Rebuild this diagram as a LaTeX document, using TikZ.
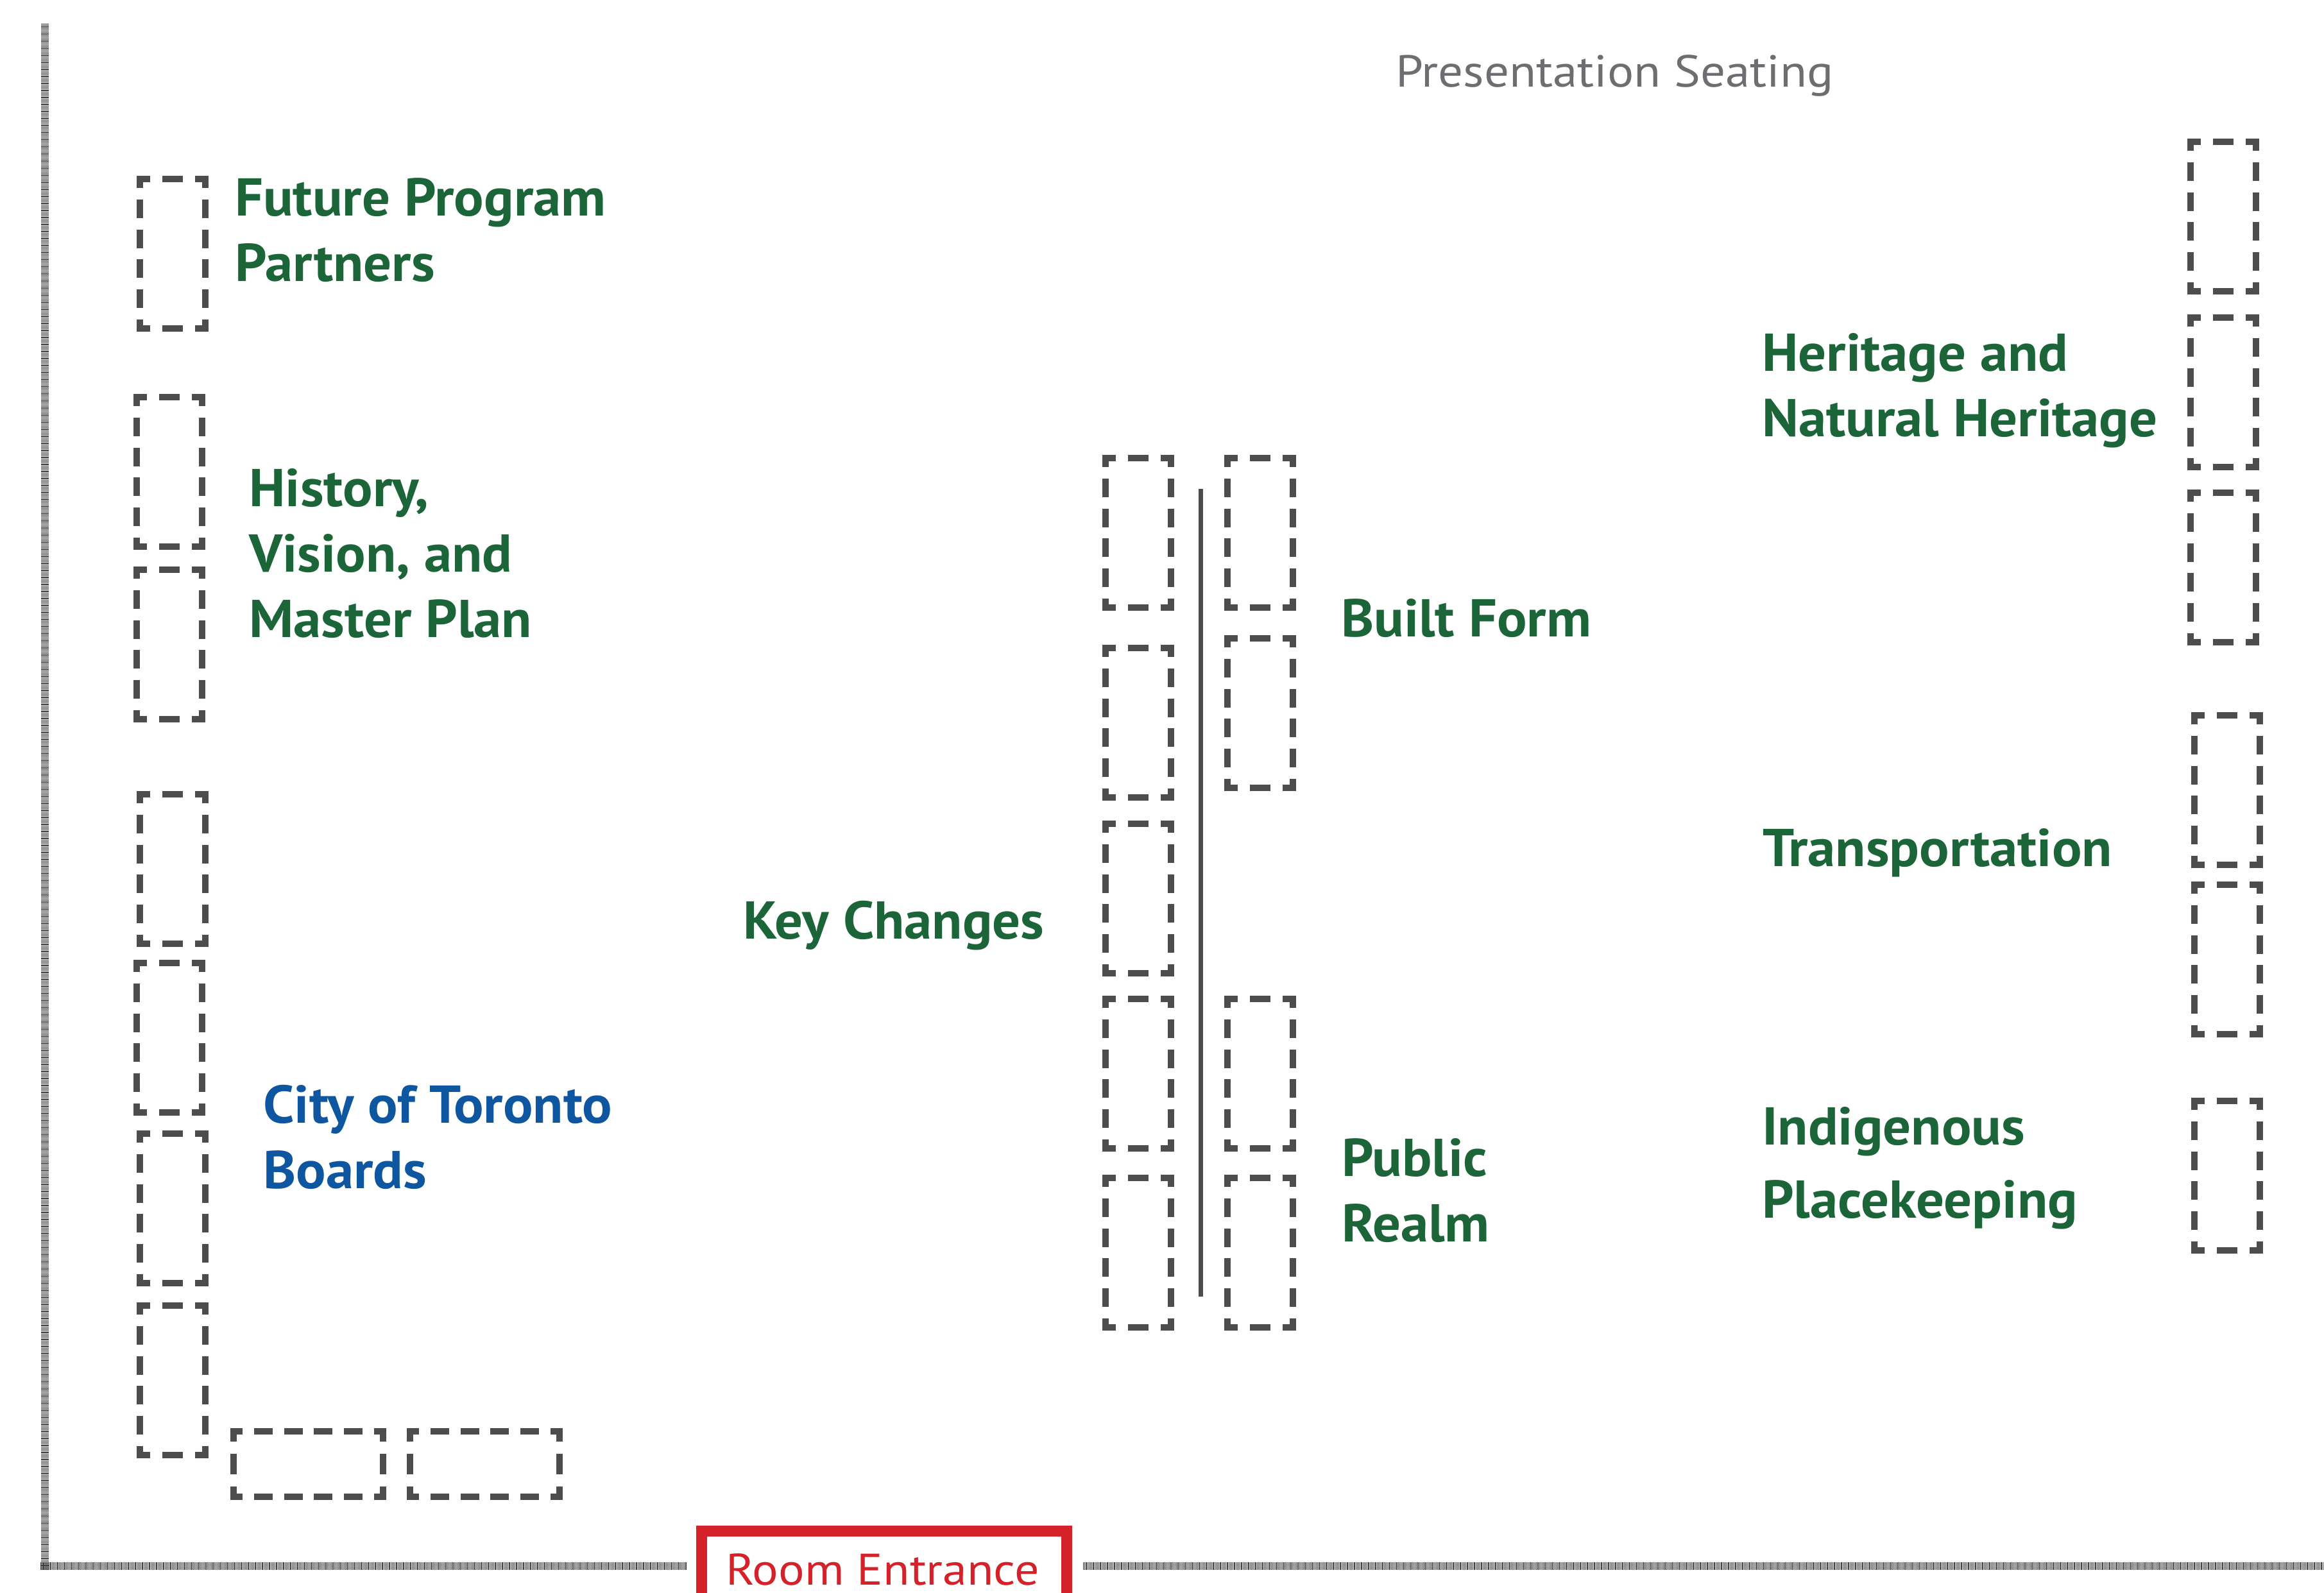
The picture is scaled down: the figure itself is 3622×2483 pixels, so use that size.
\documentclass[tikz,border=0pt]{standalone}
\usepackage{fontspec}
\setmainfont{PT Sans}
\newfontfamily\topicfont[FakeStretch=1.045]{PT Sans}
\newfontfamily\plainfont[FakeStretch=1.1]{PT Sans}
\usetikzlibrary{positioning}

\definecolor{seatgray}{RGB}{77,77,77}
\definecolor{wallgray}{RGB}{60,60,60}
\definecolor{topicgreen}{RGB}{27,101,56}
\definecolor{topicblue}{RGB}{14,86,160}
\definecolor{headgray}{RGB}{109,110,113}
\definecolor{doorred}{RGB}{212,33,42}

% dashed seat: top left corner, width, height (all in px)
\newcommand\seat[4]{%
  \pgfmathsetmacro\perw{#3/round(#3/48)}%
  \pgfmathsetmacro\perh{#4/round(#4/48)}%
  \pgfmathsetmacro\onw{0.62*\perw}\pgfmathsetmacro\offw{0.38*\perw}\pgfmathsetmacro\phw{0.31*\perw-5}%
  \pgfmathsetmacro\onh{0.62*\perh}\pgfmathsetmacro\offh{0.38*\perh}\pgfmathsetmacro\phh{0.31*\perh-5}%
  \draw[seat, dash pattern=on \onw pt off \offw pt, dash phase=\phw pt]
    (#1-5,#2) -- ++(#3+10,0) (#1-5,#2+#4) -- ++(#3+10,0);
  \draw[seat, dash pattern=on \onh pt off \offh pt, dash phase=\phh pt]
    (#1,#2-5) -- ++(0,#4+10) (#1+#3,#2-5) -- ++(0,#4+10);
}

\tikzset{
  seat/.style={line width=10pt, draw=seatgray},
  wall/.style={line width=12pt, draw=wallgray, dash pattern=on 1.2pt off 1pt},
  door/.style={line width=17pt, draw=doorred},
  topic/.style={font=\topicfont\bfseries\fontsize{83}{102}\selectfont, text=topicgreen,
    anchor=base west, align=left, inner sep=0pt},
  headtext/.style={font=\plainfont\fontsize{70}{84}\selectfont, text=headgray,
    anchor=base west, inner sep=0pt},
  doortext/.style={font=\plainfont\fontsize{69}{84}\selectfont, text=doorred,
    anchor=base west, inner sep=0pt}
}

\begin{document}
\begin{tikzpicture}[x=1pt, y=-1pt]
	\useasboundingbox[fill=white] (0,0) rectangle (3622,2483);

	% walls and entrance
	\draw[wall] (70,37) -- (70,2447);
	\draw[wall] (63,2441) -- (1070,2441);
	\draw[wall] (1688,2441) -- (3622,2441);
	\draw[door] (1093,2500) -- (1093,2386) -- (1662,2386) -- (1662,2500);

	% left wall seats
	\seat{218}{279}{102}{233}
	\seat{213}{619}{102}{233}
	\seat{213}{888}{102}{233}
	\seat{218}{1238}{102}{233}
	\seat{213}{1501}{102}{233}
	\seat{218}{1767}{102}{233}
	\seat{218}{2035}{102}{233}
	\seat{364}{2231}{233}{102}
	\seat{639}{2231}{233}{102}

	% centre seats
	\foreach \y in {714,1010,1284,1557,1836}
		{\seat{1723}{\y}{102}{233}}
	\foreach \y in {714,995,1557,1836}
		{\seat{1913}{\y}{102}{233}}
	\draw[seatgray, line width=7pt] (1871,762) -- (1871,2021);

	% right wall seats
	\foreach \y in {221,495,768}
		{\seat{3414}{\y}{102}{233}}
	\foreach \y in {1115,1379,1716}
		{\seat{3420}{\y}{102}{233}}

	% labels, placed at the baseline of their last line
	\node[headtext] (seating) at (2175,136) {Presentation Seating};
	\node[topic] (future) at (366,438) {Future Program\\Partners};
	\node[topic] (history) at (388,993) {History,\\Vision, and\\Master Plan};
	\node[topic, text=topicblue] (boards) at (410,1852) {City of Toronto\\Boards};
	\node[topic] (keychanges) at (1158,1463) {Key Changes};
	\node[topic] (builtform) at (2090,992) {Built Form};
	\node[topic] (realm) at (2091,1935) {Public\\Realm};
	\node[topic] (heritage) at (2746,680) {Heritage and\\Natural Heritage};
	\node[topic] (transport) at (2747,1350) {Transportation};
	\node[topic] (indigenous) at (2746,1898) {Indigenous\\[12pt]Placekeeping};
	\node[doortext] (entrance) at (1131,2470) {Room Entrance};
\end{tikzpicture}
\end{document}
